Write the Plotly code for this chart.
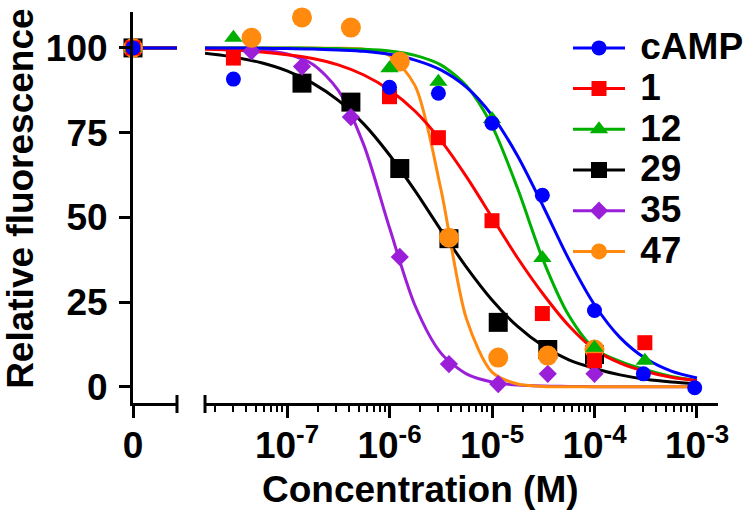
import plotly.graph_objects as go

# ---- data ----
# left (x = 0) segment: every series starts at 100 %
zero_conc = [0]
zero_resp = [100]
zero_line_x = [0, 1]
zero_line_y = [100, 100]

# measured points, concentration (M) and relative fluorescence (%)
camp_conc = [3.0e-8, 1.0e-6, 3.0e-6, 1.0e-5, 3.1e-5, 1.0e-4, 3.0e-4, 9.5e-4]
camp_resp = [90.8, 88.4, 86.6, 77.8, 56.5, 22.5, 3.8, -0.3]

c1_conc = [3.0e-8, 1.0e-6, 3.0e-6, 1.0e-5, 3.1e-5, 1.0e-4, 3.1e-4]
c1_resp = [97.0, 85.6, 73.5, 49.0, 21.6, 7.7, 13.0]

c12_conc = [3.0e-8, 1.0e-6, 3.0e-6, 1.0e-5, 3.1e-5, 1.0e-4, 3.1e-4]
c12_resp = [103.0, 94.0, 90.0, 79.0, 38.0, 11.5, 7.7]

c29_conc = [1.4e-7, 4.2e-7, 1.26e-6, 3.8e-6, 1.15e-5, 3.5e-5, 1.0e-4]
c29_resp = [89.6, 84.0, 64.4, 43.7, 19.0, 11.0, 9.5]

c35_conc = [4.5e-8, 1.4e-7, 4.2e-7, 1.26e-6, 3.8e-6, 1.15e-5, 3.5e-5, 1.0e-4]
c35_resp = [99.0, 94.5, 79.6, 38.3, 6.7, 0.8, 3.8, 3.8]

c47_conc = [4.5e-8, 1.4e-7, 4.2e-7, 1.26e-6, 3.8e-6, 1.15e-5, 3.5e-5, 1.0e-4]
c47_resp = [103.0, 109.0, 106.0, 96.0, 44.0, 8.6, 9.2, 11.0]

# fitted curves at these log10 concentrations
fit_logc = [-7.8, -7.5, -7.25, -7.0, -6.75, -6.5, -6.25, -6.0, -5.75, -5.5,
            -5.25, -5.0, -4.75, -4.5, -4.25, -4.0, -3.75, -3.5, -3.25, -3.0]
camp_fit = [100, 100, 99.9, 99.8, 99.7, 99.4, 99.0, 98.1, 96.4, 93.5,
            88.4, 80.1, 68.1, 53.2, 37.6, 24.2, 14.5, 8.3, 4.6, 2.6]
c1_fit = [99.6, 99.3, 98.8, 98.0, 96.9, 95.0, 92.0, 87.6, 81.3, 72.7,
          62.0, 50.0, 38.0, 27.3, 18.0, 11.0, 7.0, 4.5, 2.8, 1.8]
c12_fit = [100, 100, 100, 100, 99.9, 99.8, 99.6, 99.1, 97.8, 95.0,
           88.8, 77.0, 58.5, 37.3, 21.0, 11.2, 7.5, 5.0, 3.0, 1.8]
c29_fit = [98.4, 97.2, 95.6, 93.2, 89.6, 84.5, 77.5, 68.4, 57.8, 46.3,
           35.3, 25.6, 17.8, 12.0, 7.9, 5.4, 3.5, 2.2, 1.4, 0.9]
c35_fit = [99.9, 99.8, 99.4, 98.2, 95.2, 87.5, 71.3, 46.9, 23.9, 10.0,
           3.8, 1.4, 0.5, 0.2, 0.1, 0, 0, 0, 0, 0]
c47_fit = [100, 100, 100, 100, 100, 99.9, 99.6, 97.8, 88.8, 58.5,
           20.1, 4.3, 0.8, 0.1, 0, 0, 0, 0, 0, 0]

decade_vals = [1e-7, 1e-6, 1e-5, 1e-4, 1e-3]
decade_text = ['10<sup>-7</sup>', '10<sup>-6</sup>', '10<sup>-5</sup>',
               '10<sup>-4</sup>', '10<sup>-3</sup>']
y_ticks = [0, 25, 50, 75, 100]

FONT = 'Liberation Sans, Arial, sans-serif'
BIG = 37

# drawing order: later ones sit on top (cAMP on top, as in the original)
series = [
    # name, conc, resp, fit, colour, symbol, size, legend rank
    ('29', c29_conc, c29_resp, c29_fit, '#000000', 'square', 19, 4),
    ('35', c35_conc, c35_resp, c35_fit, '#9B1FD8', 'diamond', 14, 5),
    ('47', c47_conc, c47_resp, c47_fit, '#FF8A0E', 'circle', 20, 6),
    ('12', c12_conc, c12_resp, c12_fit, '#00B000', 'triangle-up', 16, 3),
    ('1', c1_conc, c1_resp, c1_fit, '#FF0000', 'square', 15, 2),
    ('cAMP', camp_conc, camp_resp, camp_fit, '#0000FF', 'circle', 15, 1),
]

fig = go.Figure()

fit_conc = [10 ** v for v in fit_logc]

# curves first
for name, conc, resp, fit, col, sym, size, rank in series:
    fig.add_trace(go.Scatter(
        x=fit_conc, y=fit, mode='lines', xaxis='x2', yaxis='y',
        line=dict(color=col, width=3, shape='spline', smoothing=0.8),
        showlegend=False, hoverinfo='skip'
    ))
    fig.add_trace(go.Scatter(
        x=zero_line_x, y=zero_line_y, mode='lines', xaxis='x', yaxis='y',
        line=dict(color=col, width=3), showlegend=False, hoverinfo='skip',
        cliponaxis=False
    ))

# then the points
for name, conc, resp, fit, col, sym, size, rank in series:
    fig.add_trace(go.Scatter(
        x=conc, y=resp, mode='markers', xaxis='x2', yaxis='y',
        marker=dict(color=col, symbol=sym, size=size, line=dict(width=0)),
        showlegend=False, cliponaxis=False
    ))
    fig.add_trace(go.Scatter(
        x=zero_conc, y=zero_resp, mode='markers', xaxis='x', yaxis='y',
        marker=dict(color=col, symbol=sym, size=size, line=dict(width=0)),
        showlegend=False, cliponaxis=False
    ))
    # legend entry (line + marker)
    fig.add_trace(go.Scatter(
        x=[None], y=[None], mode='lines+markers', xaxis='x2', yaxis='y',
        name=f'<span style="font-size:{BIG}px">\u00a0{name}</span>',
        marker=dict(color=col, symbol=sym, size=size, line=dict(width=0)),
        line=dict(color=col, width=3), legendrank=rank
    ))

axis_common = dict(showgrid=False, zeroline=False, showline=True,
                   linecolor='black', linewidth=3, ticks='outside',
                   tickcolor='black', tickwidth=3, automargin=False,
                   tickfont=dict(family=FONT, size=BIG, color='black', weight='bold'))

fig.update_layout(
    width=750, height=520,
    # fixed margins: the legend must not push the plot area
    margin=dict(l=133, r=32, t=12, b=117, autoexpand=False),
    plot_bgcolor='white', paper_bgcolor='white',
    font=dict(family=FONT, color='black'),
    xaxis=dict(domain=[0, 0.0752], range=[0, 1], anchor='y',
               tickmode='array', tickvals=[0], ticktext=['0'], ticklen=12,
               ticklabelstandoff=-4, **axis_common),
    xaxis2=dict(domain=[0.1231, 1], type='log', range=[-7.8, -2.795], anchor='y',
                tickmode='array', tickvals=decade_vals, ticktext=decade_text,
                ticklen=12, ticklabelstandoff=-4,
                minor=dict(tickmode='array',
                           tickvals=[m * d for d in [1e-8, 1e-7, 1e-6, 1e-5, 1e-4]
                                     for m in range(2, 10)],
                           ticks='outside', ticklen=6, tickwidth=2,
                           tickcolor='black'),
                **axis_common),
    yaxis=dict(range=[-4.8, 110.6], anchor='x', tickmode='array',
               tickvals=y_ticks, ticklen=11, ticklabelstandoff=4,
               **axis_common),
    legend=dict(x=0.7436, y=0.973, xanchor='left', yanchor='top',
                bgcolor='rgba(0,0,0,0)', itemwidth=52,
                font=dict(family=FONT, size=29, color='black', weight='bold')),
    shapes=[
        # axis break caps
        dict(type='line', xref='x domain', yref='paper', x0=1, x1=1,
             y0=-0.0256, y1=0.0205, line=dict(color='black', width=3)),
        dict(type='line', xref='x2 domain', yref='paper', x0=0, x1=0,
             y0=-0.0256, y1=0.0205, line=dict(color='black', width=3)),
    ],
    annotations=[
        dict(text='Relative fluorescence', xref='paper', yref='paper',
             x=-0.1915, y=0.522, xanchor='center', yanchor='middle',
             textangle=-90, showarrow=False,
             font=dict(family=FONT, size=BIG, color='black', weight='bold')),
        dict(text='Concentration (M)', xref='paper', yref='paper',
             x=0.4906, y=-0.2225, xanchor='center', yanchor='middle',
             showarrow=False,
             font=dict(family=FONT, size=BIG, color='black', weight='bold')),
    ],
)

# drop the browser's default page margin so the figure sits at (0, 0)
fig.write_html("out.html", config={'displayModeBar': False},
               post_script="document.body.style.margin='0';")
